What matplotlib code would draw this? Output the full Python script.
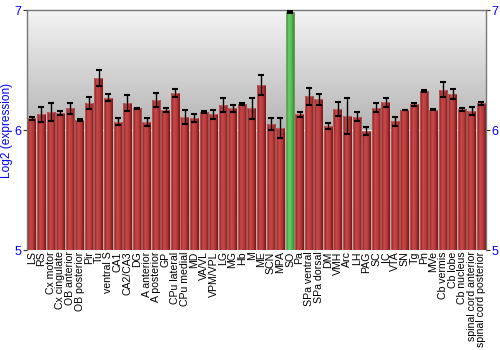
import numpy as np
import matplotlib
matplotlib.use("Agg")
import matplotlib.pyplot as plt
from matplotlib.colors import LinearSegmentedColormap

plt.rcParams['font.family'] = ['Liberation Sans', 'DejaVu Sans']

regions = ["LS", "RS", "Cx motor", "Cx cingulate", "OB anterior", "OB posterior", "Pir", "Tu",
           "ventral S", "CA1", "CA2/CA3", "DG", "A anterior", "A posterior", "GP", "CPu lateral",
           "CPu medial", "MD", "VA/VL", "VPM/VPL", "LG", "MG", "Hb", "M", "ME", "SCN", "MPA", "SO",
           "Pa", "SPa ventral", "SPa dorsal", "DM", "VMH", "Arc", "LH", "PAG", "SC", "IC", "VTA",
           "SN", "Tg", "Pn", "MVe", "Cb vermis", "Cb lobe", "Cb nucleus", "spinal cord anterior",
           "spinal cord posterior"]
values = [6.097, 6.13, 6.15, 6.14, 6.18, 6.086, 6.225, 6.43,
          6.27, 6.07, 6.225, 6.18, 6.067, 6.25, 6.17, 6.31,
          6.105, 6.10, 6.15, 6.13, 6.21, 6.18, 6.217, 6.18, 6.375, 6.05, 6.017, 6.983,
          6.13, 6.28, 6.258, 6.033, 6.175, 6.117, 6.11, 5.99, 6.186, 6.23, 6.072,
          6.167, 6.214, 6.325, 6.17, 6.336, 6.30, 6.172, 6.156,
          6.222]
errors = [0.01, 0.06, 0.076, 0.017, 0.047, 0.008, 0.054, 0.067,
          0.032, 0.026, 0.07, 0.006, 0.032, 0.055, 0.017, 0.035,
          0.058, 0.033, 0.007, 0.036, 0.06, 0.03, 0.005, 0.09, 0.08, 0.046, 0.085, 0.005,
          0.022, 0.074, 0.046, 0.025, 0.055, 0.147, 0.036, 0.035, 0.037, 0.035, 0.036,
          0.003, 0.014, 0.006, 0.003, 0.064, 0.044, 0.014, 0.032,
          0.014]
highlight = "SO"
yticks = [5, 6, 7]
ymin, ymax = 5, 7

fig = plt.figure(figsize=(5, 3.5), dpi=100)
ax = fig.add_axes([0.054, 0.2857, 0.918, 0.6857])
x = np.arange(len(regions))
ax.set_xlim(-0.5, len(regions) - 0.5)
ax.set_ylim(ymin, ymax)

# background gradient (light at top, darker toward bottom)
bg = LinearSegmentedColormap.from_list("bg", ["#f4f4f4", "#b4b4b4", "#a0a0a0"])
grad = np.linspace(0, 1, 256).reshape(-1, 1)
ax.imshow(grad, cmap=bg, aspect='auto', extent=(-0.5, len(regions) - 0.5, ymin, ymax),
          zorder=0, origin='upper')
ax.axhline(6, color='#f0f0f0', lw=1, zorder=0.5)

red_cm = LinearSegmentedColormap.from_list("red", ["#7a1818", "#c84a4a", "#b83a3a", "#6e1414"])
green_cm = LinearSegmentedColormap.from_list("green", ["#2f8a2f", "#6cd06c", "#4cb84c", "#2a7a2a"])
hgrad = np.linspace(0, 1, 64).reshape(1, -1)

bars = ax.bar(x, np.array(values) - ymin, bottom=ymin, width=0.9, color='none',
              edgecolor=(1, 0.7, 0.7, 0.35), linewidth=0.8, zorder=2)
for xi, b, r in zip(x, bars, regions):
    cm = green_cm if r == highlight else red_cm
    im = ax.imshow(hgrad, cmap=cm, aspect='auto',
                   extent=(b.get_x(), b.get_x() + b.get_width(), ymin, b.get_y() + b.get_height()),
                   zorder=1.5)
    im.set_clip_path(b)

eb = ax.errorbar(x, values, yerr=errors, fmt='none', ecolor='black', elinewidth=1,
                 capsize=2.3, capthick=1.5, zorder=3)
for cap in eb[1]:
    cap.set_color('#444444')

ax.set_xticks(x)
ax.set_xticklabels(regions, rotation=90, fontsize=7.6)
ax.tick_params(axis='x', length=0, pad=1)
ax.set_yticks(yticks)
ax.set_yticklabels([str(t) for t in yticks], color='blue', fontsize=9)
ax.tick_params(axis='y', length=3, color='#333333', pad=1, left=True, right=True,
               labelleft=True, labelright=True)
ax.set_ylabel("Log2 (expression)", color='blue', fontsize=8.6)
ax.yaxis.set_label_coords(-0.031, 0.5)

for s in ['top', 'left', 'right']:
    ax.spines[s].set_color('#777777')
    ax.spines[s].set_linewidth(1)
ax.spines['bottom'].set_visible(False)

fig.savefig("out.png", dpi=100)
